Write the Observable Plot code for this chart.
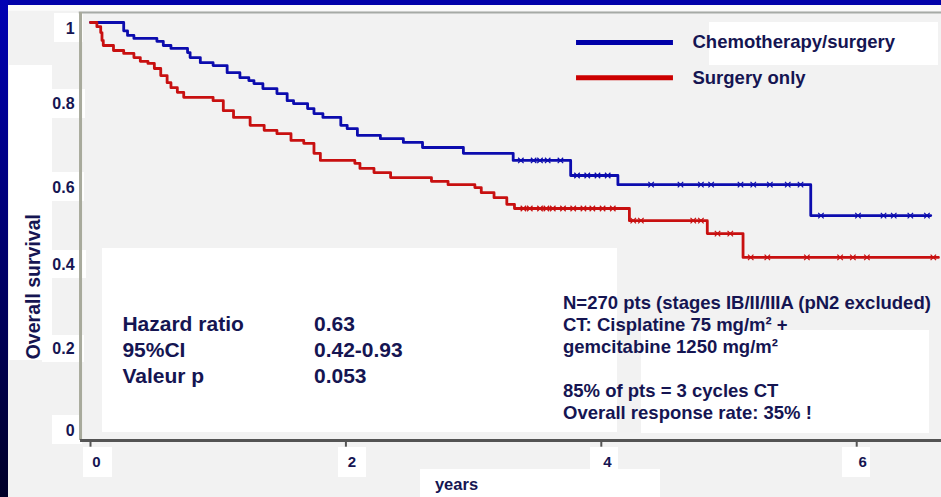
<!DOCTYPE html>
<html><head><meta charset="utf-8">
<script src="https://cdn.jsdelivr.net/npm/d3@7"></script>
<script src="https://cdn.jsdelivr.net/npm/@observablehq/plot@0.6"></script>
<style>
body{margin:0;background:#f2f2f2;}
#wrap{position:relative;width:941px;height:497px;overflow:hidden;background:#f2f2f2;}
.wb{position:absolute;background:#ffffff;}
#topband{position:absolute;left:0;top:0;width:941px;height:5px;background:#0000a8;}
#leftband{position:absolute;left:0;top:0;width:8px;height:497px;background:linear-gradient(#0000b4,#000028);}
#chart{position:absolute;left:0;top:0;}
</style></head><body>
<div id="wrap">
  <div class="wb" style="left:8px;top:5px;width:933px;height:6px;background:#f9f9f9"></div>
  <div class="wb" style="left:54px;top:13px;width:29px;height:29px"></div>
  <div class="wb" style="left:45px;top:89px;width:40px;height:29px"></div>
  <div class="wb" style="left:42px;top:172px;width:42px;height:29px"></div>
  <div class="wb" style="left:52px;top:250px;width:34px;height:28px"></div>
  <div class="wb" style="left:42px;top:335px;width:42px;height:27px"></div>
  <div class="wb" style="left:52px;top:415px;width:30px;height:29px"></div>
  <div class="wb" style="left:9px;top:65px;width:43px;height:295px"></div>
  <div class="wb" style="left:102px;top:248px;width:515px;height:184px"></div>
  <div class="wb" style="left:641px;top:330px;width:288px;height:103px"></div>
  <div class="wb" style="left:709px;top:22px;width:229px;height:43px"></div>
  <div class="wb" style="left:83px;top:447px;width:29px;height:30px"></div>
  <div class="wb" style="left:338px;top:447px;width:28px;height:30px"></div>
  <div class="wb" style="left:590px;top:447px;width:28px;height:30px"></div>
  <div class="wb" style="left:842px;top:447px;width:28px;height:30px"></div>
  <div class="wb" style="left:420px;top:469px;width:240px;height:28px"></div>
  <div id="chart"></div>
  <div id="topband"></div><div id="leftband"></div>
</div>
<script>
// ---- data ----
const series = ["Chemotherapy/surgery", "Surgery only"];
const seriesColors = ["#0c0cae", "#c81010"];
const legendColors = ["#0000a8", "#cc0000"];

const chemoT = [0, 0.26, 0.29, 0.34, 0.52, 0.57, 0.63, 0.76, 0.78, 0.86, 0.96, 1.07, 1.17, 1.24, 1.28, 1.35, 1.46, 1.54, 1.59, 1.70, 1.75, 1.82, 1.96, 2.01, 2.09, 2.27, 2.45, 2.60, 2.92, 3.31, 3.76, 4.13, 5.64, 6.58];
const chemoS = [1, 0.98, 0.969, 0.962, 0.955, 0.945, 0.938, 0.928, 0.916, 0.904, 0.897, 0.880, 0.868, 0.861, 0.854, 0.842, 0.830, 0.813, 0.806, 0.794, 0.782, 0.773, 0.754, 0.746, 0.730, 0.722, 0.713, 0.701, 0.687, 0.670, 0.634, 0.612, 0.538, 0.538];

const surgT = [0, 0.05, 0.08, 0.09, 0.10, 0.18, 0.26, 0.34, 0.39, 0.45, 0.50, 0.55, 0.60, 0.63, 0.68, 0.73, 0.78, 0.96, 1.04, 1.12, 1.25, 1.36, 1.46, 1.57, 1.67, 1.75, 1.80, 2.07, 2.11, 2.22, 2.35, 2.67, 2.80, 3.01, 3.06, 3.16, 3.26, 3.32, 4.22, 4.83, 5.11, 6.64];
const surgS = [1, 0.99, 0.976, 0.957, 0.945, 0.933, 0.926, 0.916, 0.907, 0.902, 0.890, 0.873, 0.856, 0.844, 0.833, 0.821, 0.821, 0.813, 0.789, 0.773, 0.754, 0.742, 0.734, 0.718, 0.711, 0.687, 0.670, 0.663, 0.651, 0.641, 0.629, 0.620, 0.612, 0.605, 0.593, 0.581, 0.565, 0.555, 0.526, 0.495, 0.438, 0.438];

// censored observations (times)
const chemoCensT = [3.37, 3.47, 3.52, 3.58, 3.68, 3.81, 3.89, 3.97, 4.05, 4.39, 4.62, 4.78, 4.86, 5.09, 5.19, 5.32, 5.46, 5.56, 5.72, 6.01, 6.21, 6.29, 6.42, 6.55];
const surgCensT = [3.39, 3.44, 3.52, 3.57, 3.62, 3.70, 3.78, 3.86, 3.93, 4.01, 4.09, 4.25, 4.31, 4.72, 4.78, 4.91, 5.01, 5.17, 5.30, 5.61, 5.87, 5.97, 6.08, 6.60];

const xTicks = [0, 2, 4, 6];
const yTicks = [0, 0.2, 0.4, 0.6, 0.8, 1];
const yTickLabels = ["0", "0.2", "0.4", "0.6", "0.8", "1"];
const xLabel = "years";
const yLabel = "Overall survival";

const statLabels = ["Hazard ratio", "95%CI", "Valeur p"];
const statValues = ["0.63", "0.42-0.93", "0.053"];
const noteLines = ["N=270 pts (stages IB/II/IIIA (pN2 excluded)", "CT: Cisplatine 75 mg/m² +", "gemcitabine 1250 mg/m²", "", "85% of pts = 3 cycles CT", "Overall response rate: 35% !"];

// ---- build tables ----
const toRows = (T, S, name) => T.map((t, i) => ({t, s: S[i], name}));
const curves = [...toRows(chemoT, chemoS, series[0]), ...toRows(surgT, surgS, series[1])];
const stepAt = (T, S, t) => { let v = S[0]; for (let i = 0; i < T.length; i++) if (T[i] <= t) v = S[i]; return v; };
const cens = [
  ...chemoCensT.map(t => ({t, s: stepAt(chemoT, chemoS, t), name: series[0]})),
  ...surgCensT.map(t => ({t, s: stepAt(surgT, surgS, t), name: series[1]}))
];

const ink = "#151552";
const xLeft = -0.078, xRight = 6.664, yTop = 1.024;
const font = "Liberation Sans, Arial, Helvetica, sans-serif";
// the slide's tick labels sit slightly off their ticks
const yLabelNudge = [-10, -8, -8, -2, -2, 6];

const chart = Plot.plot({
  width: 941, height: 497,
  marginLeft: 90, marginRight: 0, marginTop: 22, marginBottom: 57,
  x: {domain: [0, xRight], axis: null},
  y: {domain: [0, 1], axis: null},
  color: {domain: series, range: seriesColors},
  style: {fontFamily: font, background: "transparent", overflow: "visible"},
  marks: [
    Plot.ruleY([yTop], {x1: xLeft - 0.01, x2: xRight, stroke: "#a6aaa6", strokeWidth: 2}),
    Plot.ruleX([xLeft], {y1: 0, y2: yTop, stroke: "#a8aa9c", strokeWidth: 3}),
    Plot.ruleY([0], {x1: xLeft, x2: xRight, stroke: "#545454", strokeWidth: 3}),
    Plot.ruleX(xTicks, {x: d => d, y1: 0, y2: -0.016, stroke: "#545454", strokeWidth: 2}),
    Plot.line(curves, {x: "t", y: "s", z: "name", stroke: "name", curve: "step-after", strokeWidth: 2.8}),
    Plot.dot(cens, {x: "t", y: "s", stroke: "name", symbol: "times", r: 2.6, strokeWidth: 1.2}),
    // axis labels
    ...yTicks.map((v, i) => Plot.text([yTickLabels[i]], {x: xLeft, y: v, text: d => d, dx: -6, dy: yLabelNudge[i], textAnchor: "end", fontSize: 16, fontWeight: "bold", fill: ink})),
    Plot.text(xTicks, {x: d => d, y: 0, text: d => String(d), dx: 6, dy: 22, fontSize: 15, fontWeight: "bold", fill: ink}),
    Plot.text([xLabel], {x: 2.866, y: 0, dy: 44, text: d => d, fontSize: 16.5, fontWeight: "bold", fill: ink}),
    Plot.text([yLabel], {x: xLeft, y: 0.368, dx: -47, text: d => d, rotate: -90, fontSize: 19.5, fontWeight: "bold", fill: ink}),
    // legend
    Plot.ruleY(series, {y: (d, i) => [0.952, 0.868][i], x1: 3.806, x2: 4.565, stroke: (d, i) => legendColors[i], strokeWidth: 5}),
    Plot.text(series, {x: 4.714, y: (d, i) => [0.952, 0.868][i], text: d => d, textAnchor: "start", fontSize: 18.5, fontWeight: "bold", fill: ink}),
    // statistics box
    Plot.text(statLabels, {x: 0.25, y: (d, i) => 0.2775 - i * 0.0615, text: d => d, textAnchor: "start", fontSize: 21, fontWeight: "bold", fill: ink}),
    Plot.text(statValues, {x: 1.75, y: (d, i) => 0.2775 - i * 0.0615, text: d => d, textAnchor: "start", fontSize: 21, fontWeight: "bold", fill: ink}),
    Plot.text(noteLines, {x: 3.70, y: (d, i) => 0.328 - i * 0.0526, text: d => d, textAnchor: "start", fontSize: 18.5, fontWeight: "bold", fill: ink})
  ]
});
document.getElementById("chart").appendChild(chart);
</script>
</body></html>
